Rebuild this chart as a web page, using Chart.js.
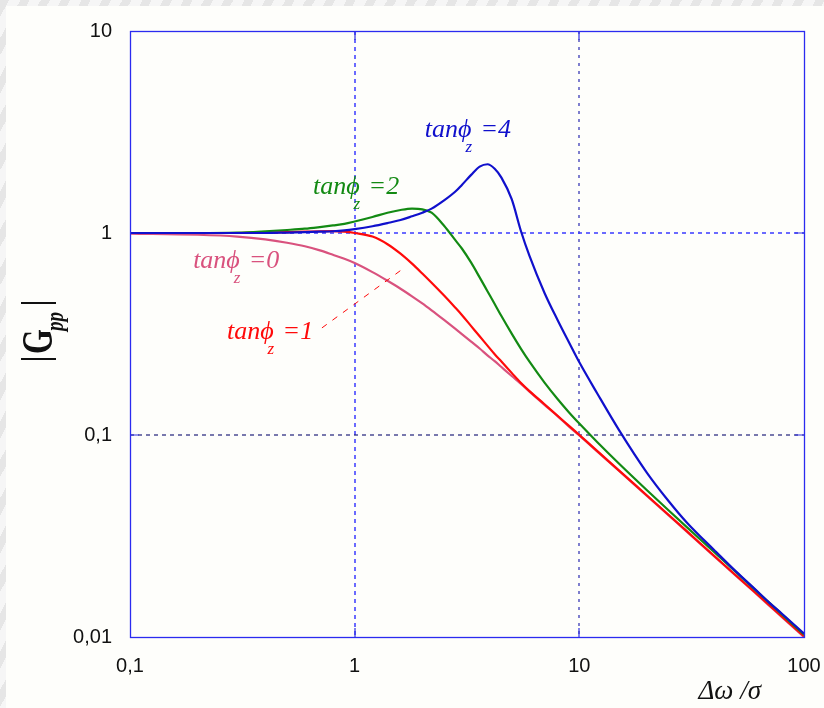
<!DOCTYPE html>
<html><head><meta charset="utf-8">
<script src="https://cdn.jsdelivr.net/npm/chart.js@4/dist/chart.umd.min.js"></script>
<style>
html,body{margin:0;padding:0;width:824px;height:708px;overflow:hidden;}
body{background:repeating-linear-gradient(118deg,#e6e6e6 0px,#e6e6e6 8px,#f6f6f6 8px,#f6f6f6 18px);}
canvas{position:absolute;left:0;top:0;}
</style></head><body>
<canvas id="c" width="824" height="708"></canvas>
<script>
// ---- data ----
const xValues = [0.1,0.2,0.3,0.4,0.5,0.6,0.7,0.8,0.9,1,1.2,1.4,1.6,1.8,2,2.2,2.5,2.8,3,3.3,3.6,3.9,4.2,4.5,5,5.5,6,7,8,9,10,12,15,20,25,30,40,50,60,70,80,100];
const gTan4 = [1.0,1.0,1.0,1.0,1.005,1.01,1.015,1.02,1.03,1.045, 1.08,1.12,1.16,1.21,1.26, 1.32,1.45,1.60,1.73, 1.94,2.13,2.19,2.08,1.88, 1.47,1.02,0.77, 0.505,0.371,0.287,0.229, 0.161,0.106,0.065,0.047,0.037, 0.0268,0.021,0.0174,0.0148,0.013,0.0104];
const gTan2 = [1.0,1.0,1.005,1.02,1.035,1.05,1.07,1.09,1.11,1.14, 1.2,1.26,1.30,1.32,1.31, 1.26,1.086,0.924,0.838, 0.713,0.603,0.515,0.445,0.388, 0.3175,0.267,0.2306, 0.1817,0.1507,0.1293,0.1139, 0.0924,0.0723,0.0533,0.0423,0.0351, 0.0262,0.0209,0.0173,0.0148,0.0129,0.0103];
const gTan1 = [1.0,1.0,1.0,1.005,1.01,1.015,1.02,1.022,1.015,1.0, 0.96,0.88,0.79,0.705,0.63, 0.567,0.49,0.428,0.393, 0.346,0.308,0.277,0.251,0.231, 0.203,0.181,0.165, 0.142,0.1245,0.111,0.1, 0.0835,0.0668,0.0502,0.0402,0.0335, 0.0251,0.0201,0.0168,0.0144,0.0126,0.0101];
const gTan0 = [0.993,0.98,0.96,0.93,0.895,0.86,0.82,0.78,0.745,0.71, 0.64,0.58,0.53,0.486,0.448, 0.414,0.371,0.336,0.316, 0.29,0.268,0.248,0.232,0.217, 0.196,0.179,0.164, 0.141,0.124,0.11,0.0995, 0.083,0.0665,0.05,0.04,0.0333, 0.025,0.02,0.0167,0.0143,0.0125,0.01];
const xTickValues = [0.1,1,10,100];
const xTickLabels = ['0,1','1','10','100'];
const yTickValues = [0.01,0.1,1,10];
const yTickLabels = ['0,01','0,1','1','10'];
const seriesNames = ['4','2','1','0'];
// label anchors in data units (x, |G|)
const labelX = [2.05, 0.652, 0.270, 0.191];
const labelY = [2.99, 1.56, 0.2986, 0.671];
const leaderX = [0.715, 1.658];
const leaderY = [0.339, 0.671];

// ---- styles ----
const colors = ['#1010cc','#138a13','#ff0a0a','#d9527e'];
const serif = '"Liberation Serif","DejaVu Serif","Times New Roman",serif';

function pts(ys){ return xValues.map((x,i)=>({x:x,y:ys[i]})); }

const decor = {
  id:'decor',
  beforeDraw(chart){
    const ctx=chart.ctx; ctx.save();
    ctx.fillStyle='#fefefb'; ctx.fillRect(6,6,chart.width-6,chart.height-6);
    ctx.restore();
  },
  beforeDatasetsDraw(chart){
    const {ctx, chartArea:a, scales:{x,y}} = chart;
    ctx.save();
    const gx=[{v:1,c:'#3a3aff',d:[4,4],w:1.5},{v:10,c:'#2a2ab0',d:[3,5],w:1.2}];
    const gy=[{v:1,c:'#3a3aff',d:[4,4],w:1.5},{v:0.1,c:'#20207a',d:[4,4],w:1.2}];
    gx.forEach(g=>{const p=Math.round(x.getPixelForValue(g.v)); ctx.lineWidth=g.w; ctx.strokeStyle=g.c; ctx.setLineDash(g.d); ctx.beginPath(); ctx.moveTo(p,a.top); ctx.lineTo(p,a.bottom); ctx.stroke();});
    gy.forEach(g=>{const p=Math.round(y.getPixelForValue(g.v)); ctx.lineWidth=g.w; ctx.strokeStyle=g.c; ctx.setLineDash(g.d); ctx.beginPath(); ctx.moveTo(a.left,p); ctx.lineTo(a.right,p); ctx.stroke();});
    ctx.setLineDash([]);
    ctx.strokeStyle='#3030e0'; ctx.lineWidth=1.2;
    const L=9;
    [1,10].forEach(v=>{const p=Math.round(x.getPixelForValue(v)); ctx.beginPath(); ctx.moveTo(p,a.top); ctx.lineTo(p,a.top+L); ctx.moveTo(p,a.bottom); ctx.lineTo(p,a.bottom-L); ctx.stroke();});
    [0.1,1].forEach(v=>{const p=Math.round(y.getPixelForValue(v)); ctx.beginPath(); ctx.moveTo(a.left,p); ctx.lineTo(a.left+L,p); ctx.moveTo(a.right,p); ctx.lineTo(a.right-L,p); ctx.stroke();});
    ctx.restore();
  },
  afterDatasetsDraw(chart){
    const {ctx, chartArea:a, scales:{x,y}} = chart;
    ctx.save();
    // leader line for tan=1
    ctx.strokeStyle=colors[2]; ctx.lineWidth=1; ctx.setLineDash([6,7]);
    ctx.beginPath();
    ctx.moveTo(x.getPixelForValue(leaderX[0]), y.getPixelForValue(leaderY[0]));
    ctx.lineTo(x.getPixelForValue(leaderX[1]), y.getPixelForValue(leaderY[1]));
    ctx.stroke(); ctx.setLineDash([]);
    // curve labels
    seriesNames.forEach((n,i)=>{
      const px=x.getPixelForValue(labelX[i]), py=y.getPixelForValue(labelY[i]);
      ctx.fillStyle=colors[i]; ctx.textAlign='left'; ctx.textBaseline='alphabetic';
      ctx.font='italic 26px '+serif;
      ctx.fillText('tanϕ',px,py);
      const w=ctx.measureText('tanϕ').width;
      ctx.font='italic 17px '+serif;
      ctx.fillText('z',px+w-6,py+15);
      ctx.font='italic 26px '+serif;
      ctx.fillText('='+n,px+w+9,py);
    });
    // border
    ctx.strokeStyle='#2b2bf0'; ctx.lineWidth=1.3;
    ctx.strokeRect(a.left+0.5,a.top+0.5,a.right-a.left,a.bottom-a.top);
    // x title
    ctx.fillStyle='#111'; ctx.font='italic 27px '+serif; ctx.textAlign='right';
    ctx.fillText('Δω /σ', 761, 699);
    // y title, rotated
    ctx.translate(52,360); ctx.rotate(-Math.PI/2); ctx.scale(1,1.37);
    ctx.textAlign='left';
    ctx.font='bold 28px '+serif;
    ctx.fillText('|',-2,-3);
    ctx.font='bold 32px '+serif;
    ctx.fillText('G',6,0);
    ctx.font='bold italic 19px '+serif;
    ctx.fillText('pp',29,8);
    ctx.font='bold 28px '+serif;
    ctx.fillText('|',54,-3);
    ctx.restore();
  }
};

new Chart(document.getElementById('c'),{
  type:'line',
  data:{datasets:[
    {data:pts(gTan4),borderColor:colors[0]},
    {data:pts(gTan2),borderColor:colors[1]},
    {data:pts(gTan1),borderColor:colors[2]},
    {data:pts(gTan0),borderColor:colors[3]}
  ]},
  options:{
    responsive:false, animation:false,
    layout:{padding:{top:31,right:20,left:0,bottom:0}},
    elements:{point:{radius:0},line:{borderWidth:2.2,cubicInterpolationMode:'monotone',fill:false}},
    plugins:{legend:{display:false},tooltip:{enabled:false}},
    scales:{
      x:{type:'logarithmic',min:0.1,max:100,
        afterBuildTicks:s=>{s.ticks=xTickValues.map(v=>({value:v}));},
        afterFit:s=>{s.height=71; s.paddingLeft=0; s.paddingRight=0;},
        grid:{display:false,drawTicks:false}, border:{display:false},
        ticks:{autoSkip:false,maxRotation:0,padding:17,color:'#111',font:{family:'"Liberation Sans",Arial,sans-serif',size:20},
          callback:(v)=>{const i=xTickValues.indexOf(v);return i>=0?xTickLabels[i]:'';}}},
      y:{type:'logarithmic',min:0.01,max:10,
        afterBuildTicks:s=>{s.ticks=yTickValues.map(v=>({value:v}));},
        afterFit:s=>{s.width=130; s.paddingTop=0; s.paddingBottom=0;},
        grid:{display:false,drawTicks:false}, border:{display:false},
        ticks:{autoSkip:false,padding:18,color:'#111',font:{family:'"Liberation Sans",Arial,sans-serif',size:20},
          callback:(v)=>{const i=yTickValues.indexOf(v);return i>=0?yTickLabels[i]:'';}}}
    }
  },
  plugins:[decor]
});
</script>
</body></html>
